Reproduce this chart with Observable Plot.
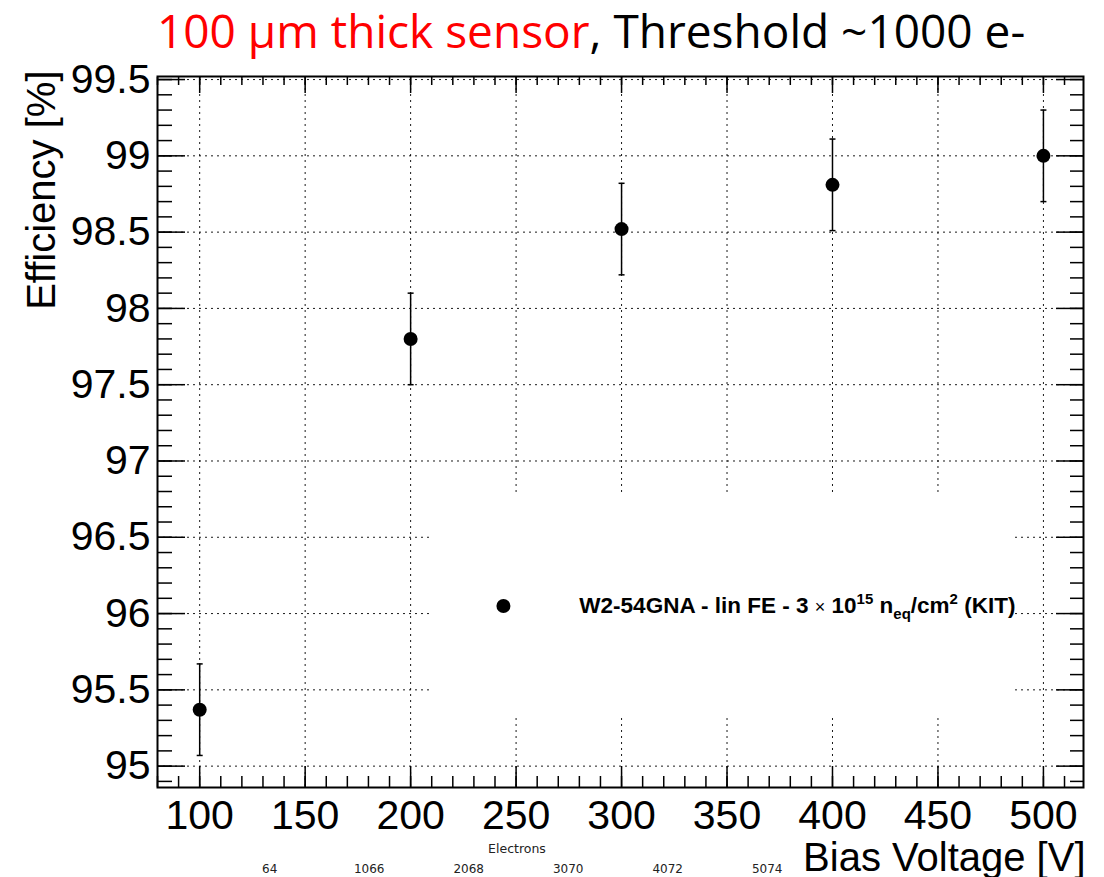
<!DOCTYPE html>
<html>
<head>
<meta charset="utf-8">
<script src="https://cdn.jsdelivr.net/npm/d3@7"></script>
<script src="https://cdn.jsdelivr.net/npm/@observablehq/plot@0.6"></script>
<style>
  html, body { margin: 0; padding: 0; background: #fff; }
  body { width: 1104px; height: 877px; position: relative; overflow: hidden; }
  #title { position: absolute; left: 157px; top: 0px; height: 60px; line-height: 60px;
           font-family: "Open Sans", sans-serif; font-size: 46px; white-space: nowrap; color: #000; }
  #title .red { color: #ff0000; }
  #chart { position: absolute; left: 0; top: 60px; }
  #elecTitle { position: absolute; left: 417px; width: 200px; top: 841px; text-align: center;
               font-family: "DejaVu Sans", sans-serif; font-size: 12.5px; color: #222; }
  #elecRow { position: absolute; left: 220px; width: 597px; top: 862px; display: flex;
             font-family: "DejaVu Sans", sans-serif; font-size: 12px; color: #222; }
  #elecRow span { flex: 1; text-align: center; }
</style>
</head>
<body>
<div id="title"></div>
<div id="chart"></div>
<div id="elecTitle"></div>
<div id="elecRow"></div>
<script>
// ---- data ----
const voltages = [100, 200, 300, 400, 500];
const efficiency = [95.37, 97.80, 98.52, 98.81, 99.00];
const errUp = [0.30, 0.30, 0.30, 0.30, 0.30];
const errDown = [0.30, 0.30, 0.30, 0.30, 0.30];
const xTickLabels = [100, 150, 200, 250, 300, 350, 400, 450, 500];
const yTickLabels = [95, 95.5, 96, 96.5, 97, 97.5, 98, 98.5, 99, 99.5];
const electronLabels = ["64", "1066", "2068", "3070", "4072", "5074"];
const electronTitle = "Electrons";
const titleRed = "100 μm thick sensor";
const titleBlack = ", Threshold ~1000 e-";
const xLabel = "Bias Voltage [V]";
const yLabel = "Efficiency [%]";
const legendLabel = "W2-54GNA - lin FE - 3 × 10^15 n_eq/cm^2 (KIT)";

// ---- layout (legend placement in data units) ----
const legendLayout = { markerX: 244, textX: 280, y: 96.05, x1: 210.5, x2: 485.8, y1: 95.315, y2: 96.78 };

const table = voltages.map((v, i) => ({
  v, eff: efficiency[i], lo: efficiency[i] - errDown[i], hi: efficiency[i] + errUp[i]
}));
const xMinor = d3.range(80, 520, 10);
const yMinor = d3.range(949, 996).map(d => d / 10);

const capSymbol = {
  draw(ctx, size) { const w = Math.sqrt(size / Math.PI); ctx.moveTo(-w, 0); ctx.lineTo(w, 0); }
};
const gridStyle = { stroke: "#000", strokeOpacity: 0.9, strokeWidth: 1, strokeDasharray: "2,4" };

const chart = Plot.plot({
  width: 1104, height: 817,
  marginLeft: 157, marginRight: 21, marginTop: 16, marginBottom: 90,
  x: { domain: [80, 519] },
  y: { domain: [94.86, 99.52] },
  style: { fontFamily: "'Liberation Sans', Arial, sans-serif", background: "white", color: "black", overflow: "visible" },
  marks: [
    Plot.gridX(xTickLabels, gridStyle),
    Plot.gridY(yTickLabels, gridStyle),
    Plot.rect([legendLayout], { x1: "x1", x2: "x2", y1: "y1", y2: "y2", fill: "white" }),
    // inward ticks
    Plot.axisX(xMinor, { anchor: "bottom", tickSize: -11, text: null, label: null, strokeWidth: 1.5 }),
    Plot.axisX(xTickLabels, { anchor: "bottom", tickSize: -21, text: null, label: null, strokeWidth: 1.5 }),
    Plot.axisX(xMinor, { anchor: "top", tickSize: -8, text: null, label: null, strokeWidth: 1.5 }),
    Plot.axisX(xTickLabels, { anchor: "top", tickSize: -16, text: null, label: null, strokeWidth: 1.5 }),
    Plot.axisY(yMinor, { anchor: "left", tickSize: -15, text: null, label: null, strokeWidth: 1.5 }),
    Plot.axisY(yTickLabels, { anchor: "left", tickSize: -28, text: null, label: null, strokeWidth: 1.5 }),
    Plot.axisY(yMinor, { anchor: "right", tickSize: -14, text: null, label: null, strokeWidth: 1.5 }),
    Plot.axisY(yTickLabels, { anchor: "right", tickSize: -28, text: null, label: null, strokeWidth: 1.5 }),
    // tick labels
    Plot.axisX(xTickLabels, { anchor: "bottom", tickSize: 0, tickPadding: 12, fontSize: 41, label: null, tickFormat: d => String(d) }),
    Plot.axisY(yTickLabels, { anchor: "left", tickSize: 0, tickPadding: 7, fontSize: 41, label: null, tickFormat: d => String(d) }),
    // error bars and points
    Plot.ruleX(table, { x: "v", y1: "lo", y2: "hi", stroke: "black", strokeWidth: 1.5 }),
    Plot.dot(table, { x: "v", y: "hi", symbol: capSymbol, r: 3, stroke: "black", fill: "none", strokeWidth: 1.5 }),
    Plot.dot(table, { x: "v", y: "lo", symbol: capSymbol, r: 3, stroke: "black", fill: "none", strokeWidth: 1.5 }),
    Plot.dot(table, { x: "v", y: "eff", r: 7, fill: "black", stroke: null }),
    // legend
    Plot.dot([legendLayout], { x: "markerX", y: "y", r: 7, fill: "black", stroke: null }),
    Plot.text([legendLayout], { x: "textX", y: "y", text: () => legendLabel, textAnchor: "start",
      fontSize: 22.5, fontWeight: "bold", fill: "black" }),
    // axis titles
    Plot.text([yLabel], { text: d => d, frameAnchor: "top-left", rotate: -90, textAnchor: "end",
      lineAnchor: "middle", dx: -115, dy: -6, fontSize: 40, fill: "black" }),
    Plot.text([xLabel], { text: d => d, frameAnchor: "bottom-right", textAnchor: "end",
      lineAnchor: "bottom", dy: 83, dx: 2, fontSize: 40, fill: "black" }),
    Plot.frame({ stroke: "black", strokeWidth: 2 })
  ]
});
document.getElementById("chart").appendChild(chart);

// rich legend text (superscripts / subscripts)
const ns = "http://www.w3.org/2000/svg";
chart.querySelectorAll("text").forEach(t => {
  if (t.textContent === legendLabel) {
    t.textContent = "";
    const parts = [
      ["W2-54GNA - lin FE - 3 ", {}],
      ["×", { "font-weight": "normal", "font-size": "18" }],
      [" 10", {}],
      ["15", { "font-size": "15", dy: "-9" }],
      [" n", { dy: "9" }],
      ["eq", { "font-size": "15", dy: "6" }],
      ["/cm", { dy: "-6" }],
      ["2", { "font-size": "15", dy: "-9" }],
      [" (KIT)", { dy: "9" }]
    ];
    for (const [s, attrs] of parts) {
      const ts = document.createElementNS(ns, "tspan");
      for (const k in attrs) ts.setAttribute(k, attrs[k]);
      ts.textContent = s;
      t.appendChild(ts);
    }
  }
});

// title and extra labels
const title = document.getElementById("title");
const red = document.createElement("span"); red.className = "red"; red.textContent = titleRed;
title.appendChild(red);
title.appendChild(document.createTextNode(titleBlack));
document.getElementById("elecTitle").textContent = electronTitle;
const row = document.getElementById("elecRow");
electronLabels.forEach(s => { const sp = document.createElement("span"); sp.textContent = s; row.appendChild(sp); });
</script>
</body>
</html>
